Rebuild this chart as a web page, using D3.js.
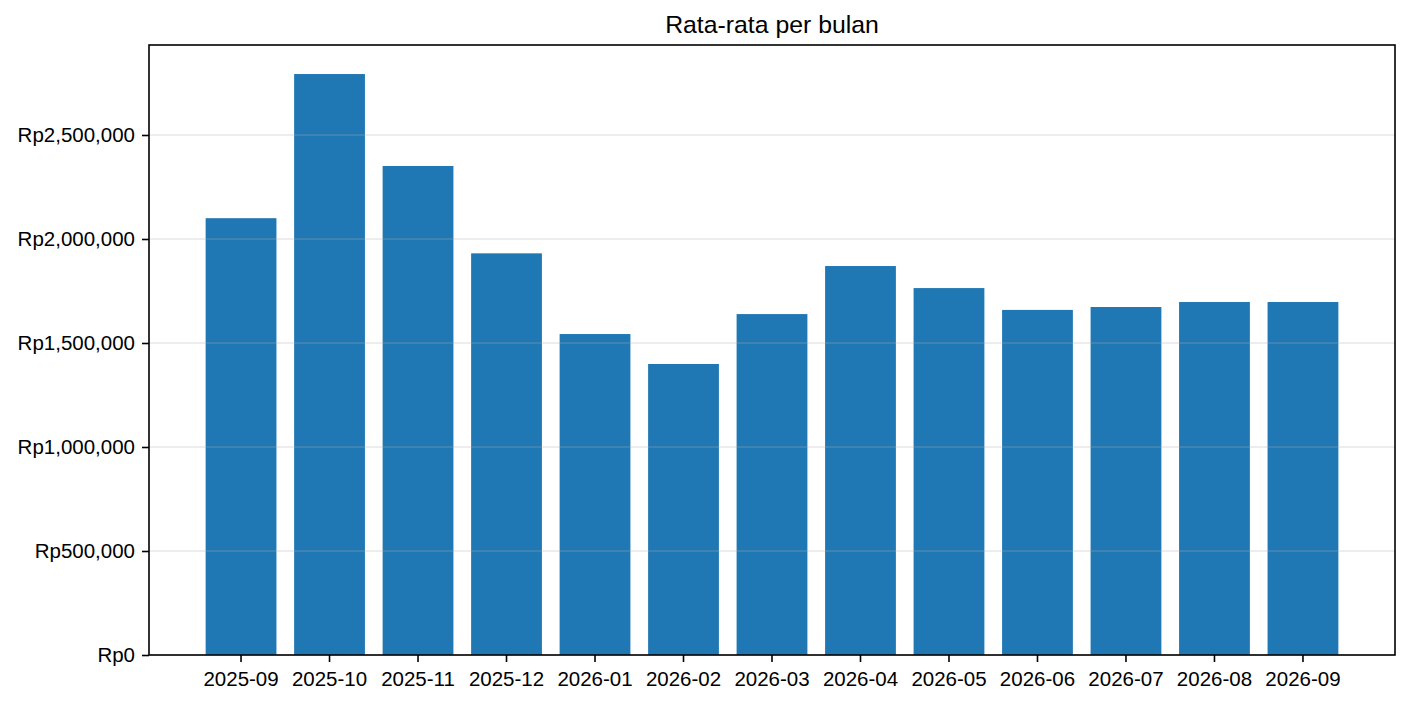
<!DOCTYPE html>
<html>
<head>
<meta charset="utf-8">
<script src="https://cdn.jsdelivr.net/npm/d3@7/dist/d3.min.js"></script>
<style>
  body { margin: 0; background: #fff; }
  svg { display: block; font-family: "Liberation Sans", Arial, sans-serif; }
</style>
</head>
<body>
<div id="chart"></div>
<script>
// months on the x axis
var months = ['2025-09', '2025-10', '2025-11', '2025-12', '2026-01', '2026-02', '2026-03',
  '2026-04', '2026-05', '2026-06', '2026-07', '2026-08', '2026-09'];

// average per month (Rupiah)
var averages = [2100000, 2793000, 2351000, 1931000, 1543000, 1399000, 1639000,
  1870000, 1764000, 1659000, 1673000, 1697000, 1697000];

var yTicks = [0, 500000, 1000000, 1500000, 2000000, 2500000];

var chartTitle = 'Rata-rata per bulan';

var width = 1410, height = 704;
var margin = { top: 45, right: 15, bottom: 49, left: 149 };
var innerW = width - margin.left - margin.right;
var innerH = height - margin.top - margin.bottom;

var svg = d3.select('#chart').append('svg')
  .attr('width', width)
  .attr('height', height);

var g = svg.append('g')
  .attr('transform', 'translate(' + margin.left + ',' + margin.top + ')');

var x = d3.scaleBand()
  .domain(months)
  .range([0, innerW])
  .paddingInner(0.2)
  .paddingOuter(0.64);

var y = d3.scaleLinear()
  .domain([0, d3.max(averages) * 1.05])
  .range([innerH, 0]);

var rupiah = function(v) { return 'Rp' + d3.format(',')(v); };

//bars
g.selectAll('rect.bar')
  .data(averages)
  .enter().append('rect')
  .attr('class', 'bar')
  .attr('x', function(d, i) { return x(months[i]); })
  .attr('width', x.bandwidth())
  .attr('y', function(d) { return y(d); })
  .attr('height', function(d) { return innerH - y(d); })
  .style('fill', '#1f77b4');

//horizontal grid, drawn over the bars like matplotlib does
g.append('g')
  .selectAll('line')
  .data(yTicks)
  .enter().append('line')
  .attr('x1', 0)
  .attr('x2', innerW)
  .attr('y1', function(d) { return y(d); })
  .attr('y2', function(d) { return y(d); })
  .style('stroke', '#b0b0b0')
  .style('stroke-opacity', 0.3)
  .style('stroke-width', 1.6);

//axes
var yAxis = g.append('g')
  .call(d3.axisLeft(y).tickValues(yTicks).tickFormat(rupiah).tickSize(7).tickPadding(7));

var xAxis = g.append('g')
  .attr('transform', 'translate(0,' + innerH + ')')
  .call(d3.axisBottom(x).tickSize(7).tickPadding(7));

[yAxis, xAxis].forEach(function(ax) {
  ax.select('.domain').remove();
  ax.selectAll('line').style('stroke', '#000').style('stroke-width', 1.6);
  ax.selectAll('text')
    .style('font-family', '"Liberation Sans", Arial, sans-serif')
    .style('font-size', '20.5px')
    .style('fill', '#000');
});
xAxis.selectAll('text').attr('dy', '0.84em');

//frame
g.append('rect')
  .attr('x', 0)
  .attr('y', 0)
  .attr('width', innerW)
  .attr('height', innerH)
  .style('fill', 'none')
  .style('stroke', '#000')
  .style('stroke-width', 1.6);

//title
svg.append('text')
  .attr('x', margin.left + innerW / 2)
  .attr('y', 33)
  .attr('text-anchor', 'middle')
  .style('font-size', '24.8px')
  .style('fill', '#000')
  .text(chartTitle);
</script>
</body>
</html>
